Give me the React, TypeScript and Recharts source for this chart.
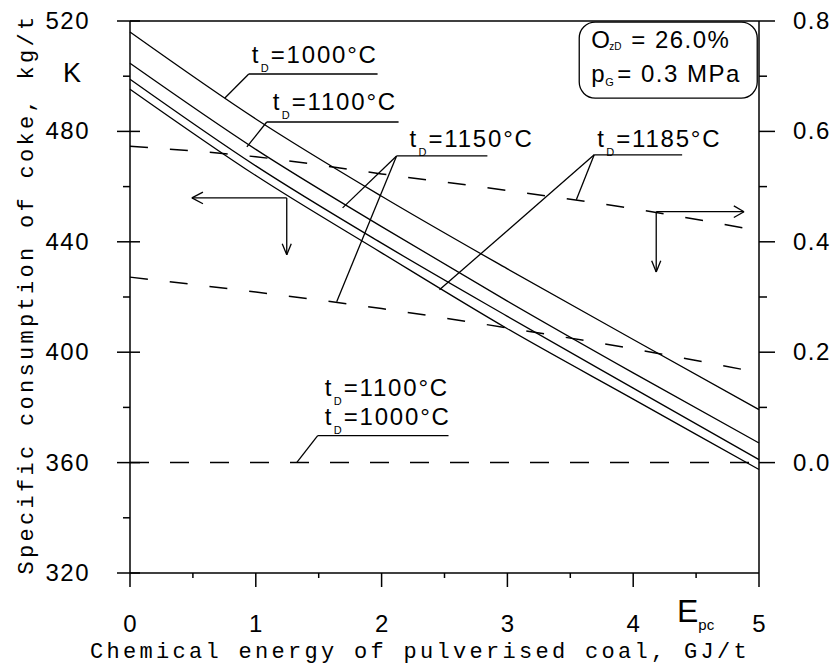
import React from 'react';
import { LineChart, Line, XAxis, YAxis, ReferenceLine, ReferenceDot } from 'recharts';

// values
const energy = [0, 1, 2, 3, 4, 5];
const coke1000 = [516, 484.5, 456.5, 430.2, 404.6, 379.2];
const coke1100 = [504.7, 473.5, 445.5, 418.5, 392.5, 367.1];
const coke1150 = [498.9, 467.5, 439.5, 413, 387, 361.1];
const coke1185 = [495.3, 464, 436, 408.5, 383, 357.5];
const right1185 = [0.573, 0.554, 0.523, 0.493, 0.46, 0.42];
const right1150 = [0.336, 0.309, 0.279, 0.244, 0.206, 0.163];
const right1000 = [0, 0, 0, 0, 0, 0];

const xTicks = [0, 0.5, 1, 1.5, 2, 2.5, 3, 3.5, 4, 4.5, 5];
const leftTicks = [320, 340, 360, 380, 400, 420, 440, 460, 480, 500, 520];
const rightTicks = [0, 0.1, 0.2, 0.3, 0.4, 0.5, 0.6, 0.7, 0.8];

// temperature labels: [temperature, x, y] in chart units (left axis)
const tempLabels: [string, number, number][] = [
  ['1000', 0.968, 504.8],
  ['1100', 1.135, 487.8],
  ['1150', 2.222, 474.4],
  ['1185', 3.714, 474.4],
  ['1100', 1.548, 384.3],
  ['1000', 1.548, 373.8],
];

// underlines, leaders and arrows: [x1, y1, x2, y2] in chart units (left axis)
const segments: [number, number, number, number][] = [
  [0.944, 500.8, 1.968, 500.8],
  [0.944, 500.8, 0.754, 492.1],
  [1.087, 483.4, 2.135, 483.4],
  [1.087, 483.4, 0.929, 474.4],
  [2.119, 471.1, 2.841, 471.1],
  [2.119, 471.1, 1.69, 452.3],
  [2.119, 471.1, 1.643, 418.3],
  [3.69, 471.5, 4.389, 471.5],
  [3.69, 471.5, 2.46, 422.6],
  [3.69, 471.5, 3.548, 455.2],
  [1.492, 369.8, 2.532, 369.8],
  [1.492, 369.8, 1.325, 360],
  // left arrow
  [1.246, 455.9, 0.492, 455.9],
  [0.492, 455.9, 0.58, 458.0],
  [0.492, 455.9, 0.58, 453.8],
  [1.246, 455.9, 1.246, 435.3],
  [1.246, 435.3, 1.21, 439.3],
  [1.246, 435.3, 1.282, 439.3],
  // right arrow
  [4.183, 450.9, 4.881, 450.9],
  [4.881, 450.9, 4.8, 453.0],
  [4.881, 450.9, 4.8, 448.8],
  [4.183, 450.9, 4.183, 429.1],
  [4.183, 429.1, 4.147, 433.1],
  [4.183, 429.1, 4.219, 433.1],
];

const data = energy.map((e, i) => ({
  e,
  k1000: coke1000[i],
  k1100: coke1100[i],
  k1150: coke1150[i],
  k1185: coke1185[i],
  r1185: right1185[i],
  r1150: right1150[i],
  r1000: right1000[i],
}));

const sans = '"Liberation Sans", Arial, sans-serif';
const mono = '"Liberation Mono", "DejaVu Sans Mono", monospace';

const XTick = (props: any) => {
  const { x, y, payload } = props;
  const major = Number.isInteger(payload.value);
  return (
    <g>
      <line x1={x} x2={x} y1={y} y2={y + (major ? 14 : 5)} stroke="#000" strokeWidth={1.5} />
      {major && (
        <text x={x} y={y + 59} textAnchor="middle" fontFamily={sans} fontSize={24} fill="#000">
          {payload.value}
        </text>
      )}
    </g>
  );
};

const LeftTick = (props: any) => {
  const { x, y, payload } = props;
  const major = payload.value % 40 === 0;
  return (
    <g>
      <line x1={major ? x - 13 : x - 7} x2={major ? x + 10 : x} y1={y} y2={y} stroke="#000" strokeWidth={1.5} />
      {major && (
        <text x={x - 40} y={y + 8} textAnchor="end" fontFamily={sans} fontSize={24} letterSpacing={1.5} fill="#000">
          {payload.value}
        </text>
      )}
    </g>
  );
};

const RightTick = (props: any) => {
  const { x, y, payload } = props;
  const major = Math.round(payload.value * 10) % 2 === 0;
  return (
    <g>
      <line x1={x} x2={x + (major ? 16 : 8)} y1={y} y2={y} stroke="#000" strokeWidth={1.5} />
      {major && (
        <text x={x + 34} y={y + 8} textAnchor="start" fontFamily={sans} fontSize={24} letterSpacing={1.5} fill="#000">
          {payload.value.toFixed(1)}
        </text>
      )}
    </g>
  );
};

const TempText = ({ cx, cy, t }: any) => (
  <text x={cx} y={cy} fontFamily={sans} fontSize={24} fill="#000">
    <tspan x={cx}>t</tspan><tspan x={cx + 9} dy={9} fontSize={11}>D</tspan><tspan x={cx + 19} dy={-9} letterSpacing={1.8}>={t}°C</tspan>
  </text>
);

const ConditionBox = ({ cx, cy }: any) => (
  <g>
    <rect x={cx} y={cy} width={178} height={76} rx={16} ry={16} fill="none" stroke="#000" strokeWidth={1.3} />
    <text x={cx + 12} y={cy + 26} fontFamily={sans} fontSize={24} fill="#000">
      <tspan x={cx + 12}>O</tspan><tspan x={cx + 30} dy={2} fontSize={10}>zD</tspan><tspan x={cx + 52} dy={-2} letterSpacing={1.5}>= 26.0%</tspan>
    </text>
    <text x={cx + 12} y={cy + 60} fontFamily={sans} fontSize={24} fill="#000">
      <tspan x={cx + 12}>p</tspan><tspan x={cx + 26} dy={4} fontSize={11}>G</tspan><tspan x={cx + 38} dy={-4} letterSpacing={1.5}>= 0.3 MPa</tspan>
    </text>
  </g>
);

export default function App() {
  return (
    <div style={{ position: 'absolute', left: 0, top: 0, width: 836, height: 665, background: '#fff' }}>
      <LineChart width={836} height={665} data={data} margin={{ top: 21, right: 0, bottom: 0, left: 0 }}>
        <XAxis
          dataKey="e"
          type="number"
          domain={[0, 5]}
          ticks={xTicks}
          height={92}
          tickSize={0}
          tickMargin={0}
          tickLine={false}
          tick={<XTick />}
          axisLine={{ stroke: '#000', strokeWidth: 1.5 }}
          interval={0}
        />
        <YAxis
          yAxisId="left"
          type="number"
          domain={[320, 520]}
          ticks={leftTicks}
          width={130}
          tickSize={0}
          tickMargin={0}
          tickLine={false}
          tick={<LeftTick />}
          axisLine={{ stroke: '#000', strokeWidth: 1.5 }}
          interval={0}
        />
        <YAxis
          yAxisId="right"
          orientation="right"
          type="number"
          domain={[-0.2, 0.8]}
          ticks={rightTicks}
          width={77}
          tickSize={0}
          tickMargin={0}
          tickLine={false}
          tick={<RightTick />}
          axisLine={{ stroke: '#000', strokeWidth: 1.5 }}
          interval={0}
        />
        <ReferenceLine yAxisId="left" y={520} stroke="#000" strokeWidth={1.5} />

        <Line yAxisId="left" type="monotone" dataKey="k1000" stroke="#000" strokeWidth={1.3} dot={false} isAnimationActive={false} />
        <Line yAxisId="left" type="monotone" dataKey="k1100" stroke="#000" strokeWidth={1.3} dot={false} isAnimationActive={false} />
        <Line yAxisId="left" type="monotone" dataKey="k1150" stroke="#000" strokeWidth={1.3} dot={false} isAnimationActive={false} />
        <Line yAxisId="left" type="monotone" dataKey="k1185" stroke="#000" strokeWidth={1.3} dot={false} isAnimationActive={false} />
        <Line yAxisId="right" type="monotone" dataKey="r1185" stroke="#000" strokeWidth={1.5} strokeDasharray="18 22" dot={false} isAnimationActive={false} />
        <Line yAxisId="right" type="monotone" dataKey="r1150" stroke="#000" strokeWidth={1.5} strokeDasharray="18 22" dot={false} isAnimationActive={false} />
        <Line yAxisId="right" type="monotone" dataKey="r1000" stroke="#000" strokeWidth={1.5} strokeDasharray="19 21" dot={false} isAnimationActive={false} />

        {segments.map(([x1, y1, x2, y2], i) => (
          <ReferenceLine
            key={'s' + i}
            yAxisId="left"
            segment={[{ x: x1, y: y1 }, { x: x2, y: y2 }]}
            stroke="#000"
            strokeWidth={1.3}
          />
        ))}
        {tempLabels.map(([t, x, y], i) => (
          <ReferenceDot
            key={'t' + i}
            yAxisId="left"
            x={x}
            y={y}
            r={0}
            shape={(p: any) => <TempText cx={p.cx} cy={p.cy} t={t} />}
          />
        ))}
        <ReferenceDot yAxisId="left" x={3.571} y={519.6} r={0} shape={(p: any) => <ConditionBox cx={p.cx} cy={p.cy} />} />
      </LineChart>

      <svg width={836} height={665} style={{ position: 'absolute', left: 0, top: 0, pointerEvents: 'none' }}>
        <text x={33} y={294} transform="rotate(-90 33 294)" textAnchor="middle" fontFamily={mono} fontSize={22} letterSpacing={3.3} fill="#000">
          Specific consumption of coke, kg/t
        </text>
        <text x={420} y={658} textAnchor="middle" fontFamily={mono} fontSize={22} letterSpacing={3.3} fill="#000">
          Chemical energy of pulverised coal, GJ/t
        </text>
        <text x={63} y={82} fontFamily={sans} fontSize={27} fill="#000">K</text>
        <text x={677} y={622} fontFamily={sans} fontSize={32} fill="#000">
          E<tspan fontSize={15} dy={8}>pc</tspan>
        </text>
      </svg>
    </div>
  );
}
